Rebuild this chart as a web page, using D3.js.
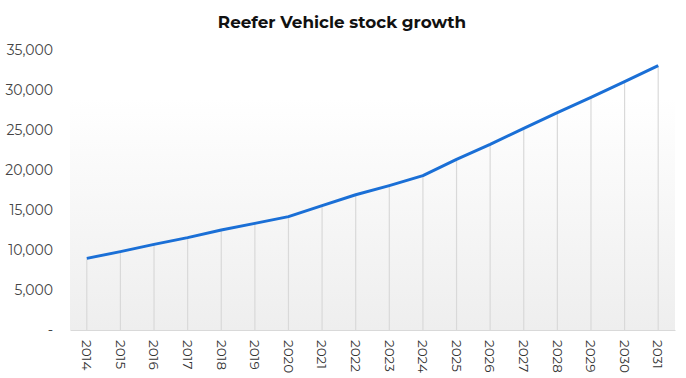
<!DOCTYPE html>
<html><head><meta charset="utf-8">
<script src="https://cdn.jsdelivr.net/npm/d3@7"></script>
<style>body{margin:0;background:#fff;} svg{display:block;}</style>
</head><body>
<svg id="chart" width="686" height="378"></svg>
<script>
const years = ["2014","2015","2016","2017","2018","2019","2020","2021","2022","2023","2024","2025","2026","2027","2028","2029","2030","2031"];
const stock = [8950,9800,10700,11550,12500,13330,14170,15550,16900,18050,19300,21330,23210,25210,27170,29080,31040,33050];
const yTicks = [0,5000,10000,15000,20000,25000,30000,35000];
const title = "Reefer Vehicle stock growth";

const svg = d3.select("#chart");
const m = {left:70, right:11, top:50, bottom:48};
const W = 686, H = 378;
const x = d3.scaleBand().domain(years).range([m.left, W - m.right]);
const y = d3.scaleLinear().domain([0,35000]).range([H - m.bottom, m.top]);
const font = "Montserrat, 'Open Sans', 'Noto Sans', sans-serif";

const defs = svg.append("defs");
const g = defs.append("linearGradient").attr("id","bg").attr("x1",0).attr("y1",0).attr("x2",0).attr("y2",1);
g.append("stop").attr("offset","0%").attr("stop-color","#ffffff");
g.append("stop").attr("offset","100%").attr("stop-color","#eeeeee");

svg.append("rect").attr("x", m.left).attr("y", 98)
  .attr("width", W - m.right - m.left).attr("height", y(0) - 98)
  .attr("fill","url(#bg)");

svg.append("text").attr("x", 342).attr("y", 28).attr("text-anchor","middle")
  .attr("font-family", font).attr("font-weight","bold").attr("font-size", 16.8)
  .attr("fill","#111").text(title);

// y axis labels
const ya = svg.append("g").attr("transform", `translate(${m.left},0)`)
  .call(d3.axisLeft(y).tickValues(yTicks).tickSize(0).tickPadding(17)
    .tickFormat(d => d === 0 ? "-" : d3.format(",")(d)));
ya.select(".domain").remove();
ya.selectAll("text").attr("font-family", font).attr("font-size", 14).attr("fill","#444");

// drop lines
const cx = d => x(d) + x.bandwidth()/2;
svg.append("g").selectAll("line").data(years).join("line")
  .attr("x1", d => cx(d)).attr("x2", d => cx(d))
  .attr("y1", (d,i) => y(stock[i])).attr("y2", y(0))
  .attr("stroke","#d9d9d9").attr("stroke-width",1.2);

// x axis
const xa = svg.append("g").attr("transform", `translate(0,${y(0)})`)
  .call(d3.axisBottom(x).tickSize(0).tickPadding(0));
xa.select(".domain").attr("stroke","#d9d9d9").attr("stroke-width",1.2);
xa.selectAll("text").attr("font-family", font).attr("font-size", 13.5).attr("fill","#333")
  .attr("text-anchor","start").attr("dy","0.35em")
  .attr("transform","translate(0,10) rotate(90)");

// line
svg.append("path").datum(stock)
  .attr("fill","none").attr("stroke","#1a6fd6").attr("stroke-width",3)
  .attr("stroke-linejoin","round")
  .attr("d", d3.line().x((d,i) => cx(years[i])).y(d => y(d)));
</script>
</body></html>
